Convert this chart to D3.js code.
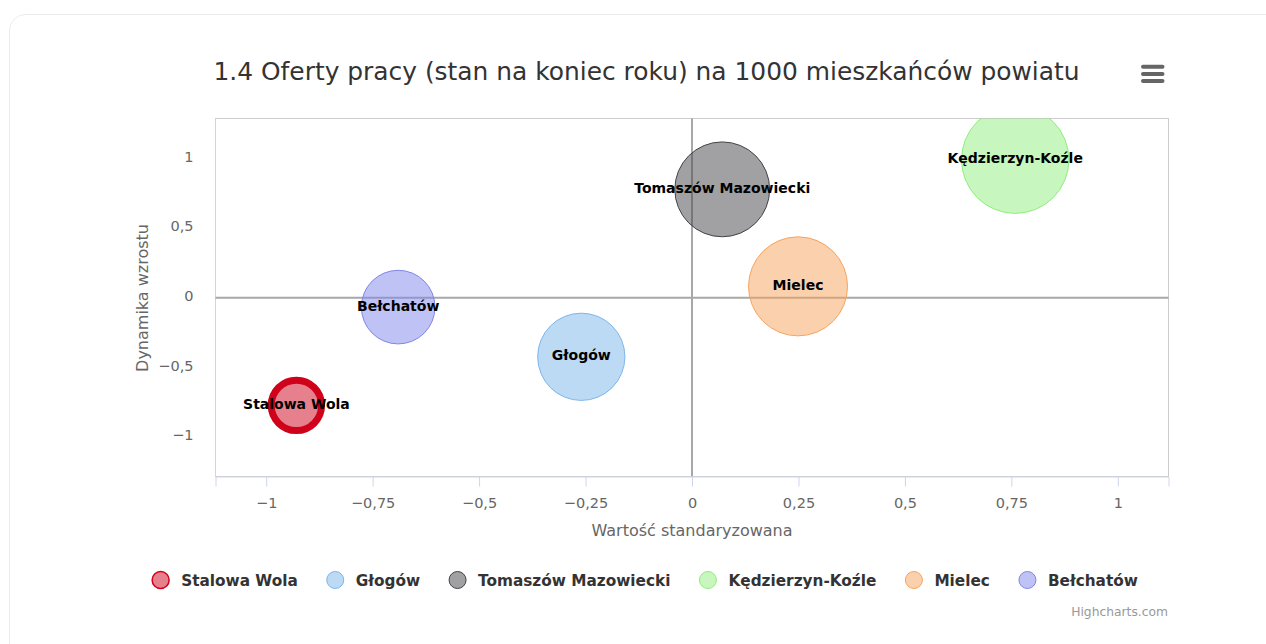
<!DOCTYPE html>
<html>
<head>
<meta charset="utf-8">
<script src="https://cdn.jsdelivr.net/npm/d3@7"></script>
<style>
  body { margin: 0; background: #fff; }
  svg { display: block; font-family: "DejaVu Sans", sans-serif; }
</style>
</head>
<body>
<div id="chart"></div>
<script>
// dane: powiaty, wartość standaryzowana (x), dynamika wzrostu (y), oferty na 1000 mieszk. (z)
var cities = ["Stalowa Wola", "Głogów", "Tomaszów Mazowiecki", "Kędzierzyn-Koźle", "Mielec", "Bełchatów"];
var xValues = [-0.929, -0.26, 0.071, 0.759, 0.249, -0.69];
var yValues = [-0.774, -0.425, 0.778, 0.991, 0.081, -0.068];
var zValues = [2.2, 6.6, 7.8, 10.0, 8.5, 4.7];
var colors = ["#d0021b", "#7cb5ec", "#434348", "#90ed7d", "#f7a35c", "#8085e9"];
var xTicks = [-1, -0.75, -0.5, -0.25, 0, 0.25, 0.5, 0.75, 1];
var yTicks = [-1, -0.5, 0, 0.5, 1];

var width = 1266, height = 644;
var plot = { left: 215.5, top: 118.5, right: 1168.5, bottom: 476.5 };

var pl = d3.formatLocale({ decimal: ",", thousands: " ", grouping: [3], currency: ["", " zł"], minus: "\u2212" });
var fmt = pl.format("~g");

var svg = d3.select("#chart").append("svg")
  .attr("width", width)
  .attr("height", height);

// karta
svg.append("rect")
  .attr("x", 9.5).attr("y", 14.5)
  .attr("width", 1300).attr("height", 700)
  .attr("rx", 16)
  .attr("fill", "#fff")
  .attr("stroke", "#ececec");

// tytuł
svg.append("text")
  .attr("x", 646.5).attr("y", 79.5)
  .attr("text-anchor", "middle")
  .attr("fill", "#333")
  .style("font-size", "24.9px")
  .text("1.4 Oferty pracy (stan na koniec roku) na 1000 mieszkańców powiatu");

// menu
svg.append("g").selectAll("line")
  .data([66.7, 73.9, 81.1])
  .enter().append("line")
  .attr("x1", 1143).attr("x2", 1162.5)
  .attr("y1", function(d) { return d; })
  .attr("y2", function(d) { return d; })
  .attr("stroke", "#666")
  .attr("stroke-width", 4)
  .attr("stroke-linecap", "round");

var x = d3.scaleLinear().domain([-1.119, 1.119]).range([plot.left, plot.right]);
var y = d3.scaleLinear().domain([-1.285, 1.287]).range([plot.bottom, plot.top]);
var r = d3.scaleSqrt().domain([0, d3.max(zValues)]).range([0, 53.7]);

// ramka obszaru wykresu
svg.append("rect")
  .attr("x", plot.left).attr("y", plot.top)
  .attr("width", plot.right - plot.left)
  .attr("height", plot.bottom - plot.top)
  .attr("fill", "none")
  .attr("stroke", "#cccccc");

svg.append("line")
  .attr("x1", plot.left).attr("x2", plot.left)
  .attr("y1", plot.top).attr("y2", plot.bottom)
  .attr("stroke", "#ccd6eb");

// linie zerowe
svg.append("line")
  .attr("x1", x(0)).attr("x2", x(0))
  .attr("y1", plot.top).attr("y2", plot.bottom)
  .attr("stroke", "#a8a8a8").attr("stroke-width", 2);
svg.append("line")
  .attr("x1", plot.left).attr("x2", plot.right)
  .attr("y1", y(0)).attr("y2", y(0))
  .attr("stroke", "#a8a8a8").attr("stroke-width", 2);

// oś X
var xAxis = svg.append("g")
  .attr("transform", "translate(0," + plot.bottom + ")")
  .call(d3.axisBottom(x).tickValues(xTicks).tickSize(10).tickPadding(11).tickFormat(fmt));
xAxis.select(".domain").attr("stroke", "#ccd6eb");
xAxis.selectAll(".tick line").attr("stroke", "#ccd6eb");
xAxis.selectAll(".tick text")
  .attr("fill", "#666")
  .style("font-size", "14.5px")
  .style("font-family", "DejaVu Sans");

// oś Y
var yAxis = svg.append("g")
  .attr("transform", "translate(" + plot.left + ",0)")
  .call(d3.axisLeft(y).tickValues(yTicks).tickSize(0).tickPadding(22).tickFormat(fmt));
yAxis.select(".domain").remove();
yAxis.selectAll(".tick text")
  .attr("fill", "#666")
  .attr("dy", "0.2em")
  .style("font-size", "14.5px")
  .style("font-family", "DejaVu Sans");

// tytuły osi
svg.append("text")
  .attr("x", (plot.left + plot.right) / 2).attr("y", 536)
  .attr("text-anchor", "middle")
  .attr("fill", "#666")
  .style("font-size", "16px")
  .text("Wartość standaryzowana");

svg.append("text")
  .attr("transform", "translate(148," + 298 + ") rotate(-90)")
  .attr("text-anchor", "middle")
  .attr("fill", "#666")
  .style("font-size", "16px")
  .text("Dynamika wzrostu");

// bąble
svg.append("clipPath").attr("id", "plotclip")
  .append("rect")
  .attr("x", plot.left).attr("y", plot.top)
  .attr("width", plot.right - plot.left)
  .attr("height", plot.bottom - plot.top);

var idx = d3.range(cities.length);
var bubbles = svg.append("g").attr("clip-path", "url(#plotclip)");
bubbles.selectAll("circle")
  .data(idx)
  .enter().append("circle")
  .attr("cx", function(i) { return x(xValues[i]); })
  .attr("cy", function(i) { return y(yValues[i]); })
  .attr("r", function(i) { return r(zValues[i]); })
  .attr("fill", function(i) { return colors[i]; })
  .attr("fill-opacity", 0.5)
  .attr("stroke", function(i) { return colors[i]; })
  .attr("stroke-width", function(i) { return i === 0 ? 7 : 1; });

svg.append("g").selectAll("text")
  .data(idx)
  .enter().append("text")
  .attr("x", function(i) { return x(xValues[i]); })
  .attr("y", function(i) { return y(yValues[i]) + 3.5; })
  .attr("text-anchor", "middle")
  .attr("fill", "#000")
  .style("font-size", "14px")
  .style("font-weight", "bold")
  .text(function(i) { return cities[i]; });

// legenda
var legend = svg.append("g");
var items = legend.selectAll("g")
  .data(idx)
  .enter().append("g");
items.append("circle")
  .attr("r", 8.5)
  .attr("cx", 8.5)
  .attr("cy", 0)
  .attr("fill", function(i) { return colors[i]; })
  .attr("fill-opacity", 0.5)
  .attr("stroke", function(i) { return colors[i]; })
  .attr("stroke-width", function(i) { return i === 0 ? 1.5 : 1; });
items.append("text")
  .attr("x", 29)
  .attr("y", 5.5)
  .attr("fill", "#333")
  .style("font-size", "15.3px")
  .style("font-weight", "bold")
  .text(function(i) { return cities[i]; });

var widths = [];
items.each(function() { widths.push(this.getBBox().width); });
var gap = 29;
var total = d3.sum(widths) + gap * (widths.length - 1);
var cursor = 645 - total / 2;
items.attr("transform", function(d, i) {
  var t = "translate(" + cursor + ",580)";
  cursor += widths[i] + gap;
  return t;
});

// credits
svg.append("text")
  .attr("x", 1168).attr("y", 616)
  .attr("text-anchor", "end")
  .attr("fill", "#999")
  .style("font-size", "12.3px")
  .text("Highcharts.com");
</script>
</body>
</html>
